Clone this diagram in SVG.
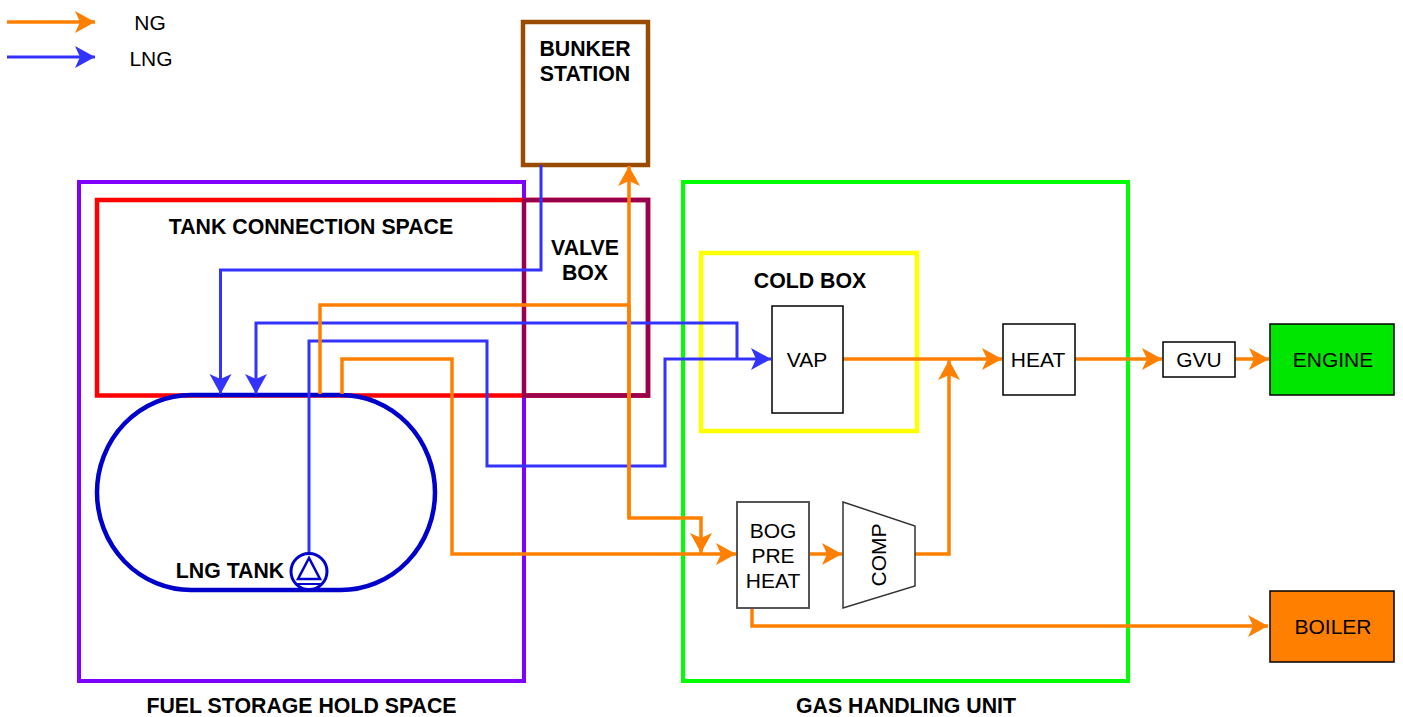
<svg xmlns="http://www.w3.org/2000/svg" width="1403" height="717" viewBox="0 0 1403 717">
<style>
text{font-family:"Liberation Sans",Arial,sans-serif;font-size:21px;fill:#000;text-anchor:middle}
.b{font-weight:bold;font-size:21.300px}
.c{fill:none;stroke-linejoin:miter}
.ng{stroke:#ff8000;stroke-width:3.500;fill:none;marker-end:url(#an)}
.ngp{stroke:#ff8000;stroke-width:3.500;fill:none}
.lng{stroke:#3333ff;stroke-width:3;fill:none;marker-end:url(#al)}
.box{fill:#fff;stroke:#000;stroke-width:1.500}
</style>
<defs>
<marker id="an" markerUnits="userSpaceOnUse" markerWidth="22" markerHeight="24" refX="21" refY="12" orient="auto"><path d="M1,1L21,12L1,23L6,12Z" fill="#ff8000"/></marker>
<marker id="al" markerUnits="userSpaceOnUse" markerWidth="22" markerHeight="24" refX="21" refY="12" orient="auto"><path d="M1,1L21,12L1,23L6,12Z" fill="#3333ff"/></marker>
</defs>
<g id="red-tank-connection-space"><rect class="c" x="97" y="200" width="551" height="195.500" stroke="#ff0000" stroke-width="4.500"/></g>
<g id="fuel-storage-hold-space"><rect class="c" x="79" y="182" width="445" height="499" stroke="#7f00ff" stroke-width="4"/></g>
<g id="valve-box"><path class="c" d="M524,200H648V395.500H524Z" stroke="#99004d" stroke-width="4.500"/></g>
<g id="gas-handling-unit"><rect class="c" x="683" y="182" width="445" height="499" stroke="#00ff00" stroke-width="4"/></g>
<g id="cold-box"><rect class="c" x="701" y="253" width="216" height="178" stroke="#ffff00" stroke-width="4.500"/></g>
<g id="bunker-station"><rect class="c" x="523" y="22" width="125" height="143" stroke="#994c00" stroke-width="4.500"/></g>
<g id="lng-tank"><rect x="97" y="395" width="338" height="195" rx="94" ry="97.500" fill="none" stroke="#0000cc" stroke-width="4.500"/></g>
<g id="connectors">
<path class="ng" d="M7,22H95"/>
<path class="lng" d="M7,57H95"/>
<path class="lng" d="M541,165V270H220.500V394"/>
<path class="lng" d="M737,359V323H256V394"/>
<path class="lng" d="M309,553V341H487V466H665V359H771"/>
<path class="ngp" d="M320,394V305H629"/>
<path class="ng" d="M629,518V166"/>
<path class="ng" d="M629,305V518H701V553"/>
<path class="ng" d="M342,394V359H452V554H736"/>
<path class="ng" d="M843,359H1002"/>
<path class="ng" d="M915,554H949V360"/>
<path class="ng" d="M809,554H842"/>
<path class="ng" d="M1075,359H1162"/>
<path class="ng" d="M1235,359H1269"/>
<path class="ng" d="M752,608V626H1268"/>
</g>
<g id="pump"><circle cx="309" cy="571.500" r="18" fill="#fff" stroke="#0000cc" stroke-width="3"/><path d="M309,558L298,579H320Z" fill="#fff" stroke="#0000cc" stroke-width="2.500"/><path d="M296,584H322" stroke="#0000cc" stroke-width="2" fill="none"/></g>
<g id="vap"><rect class="box" x="772" y="306" width="71" height="107"/><text x="807" y="367">VAP</text></g>
<g id="heat"><rect class="box" x="1003" y="324" width="72" height="71"/><text x="1038" y="367">HEAT</text></g>
<g id="gvu"><rect class="box" x="1163" y="342" width="72" height="35"/><text x="1199" y="367">GVU</text></g>
<g id="engine"><rect x="1270" y="324" width="124" height="71" fill="#00e600" stroke="#000" stroke-width="1.500"/><text x="1333" y="367">ENGINE</text></g>
<g id="boiler"><rect x="1270" y="591" width="124" height="71" fill="#ff8000" stroke="#000" stroke-width="1.500"/><text x="1333" y="634">BOILER</text></g>
<g id="bog-pre-heat"><rect x="737" y="502" width="72" height="106" fill="#fff" stroke="#555" stroke-width="2"/><text x="773" y="538">BOG</text><text x="773" y="563">PRE</text><text x="773" y="588">HEAT</text></g>
<g id="comp"><path d="M843,502L915,526V586L843,608Z" fill="#fff" stroke="#333" stroke-width="1.500"/><text transform="translate(886,555) rotate(-90)">COMP</text></g>
<g id="labels">
<text x="150" y="30">NG</text>
<text x="151" y="66">LNG</text>
<text class="b" x="585" y="56">BUNKER</text>
<text class="b" x="585" y="81">STATION</text>
<text class="b" x="311" y="234">TANK CONNECTION SPACE</text>
<text class="b" x="585" y="255">VALVE</text>
<text class="b" x="585" y="280">BOX</text>
<text class="b" x="810" y="288">COLD BOX</text>
<text class="b" x="230" y="578">LNG TANK</text>
<text class="b" x="301.500" y="713">FUEL STORAGE HOLD SPACE</text>
<text class="b" x="906" y="713">GAS HANDLING UNIT</text>
</g>
</svg>
